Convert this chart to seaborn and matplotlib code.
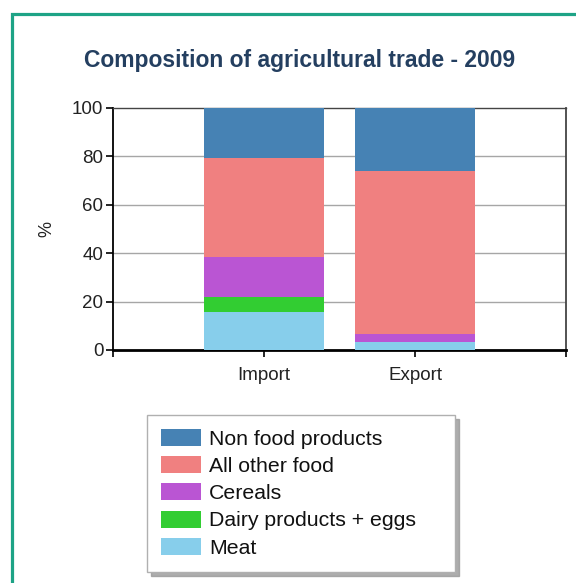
import matplotlib
matplotlib.use("Agg")
import matplotlib.pyplot as plt
import matplotlib.patches as mpatches
import numpy as np
import pandas as pd
import seaborn as sns

categories = ["Import", "Export"]
series = ["Meat", "Dairy products + eggs", "Cereals", "All other food", "Non food products"]
meat = [15.9, 3.1]
dairy = [5.8, 0.3]
cereals = [16.8, 3.4]
other_food = [41.0, 67.2]
non_food = [20.5, 26.0]
colors = {"Meat": "#87ceeb", "Dairy products + eggs": "#32cd32", "Cereals": "#ba55d3",
          "All other food": "#f08080", "Non food products": "#4682b4"}
yticks = [0, 20, 40, 60, 80, 100]

sns.set_style("white")
plt.rcParams["font.family"] = ["Liberation Sans", "DejaVu Sans"]

values = {"Meat": meat, "Dairy products + eggs": dairy, "Cereals": cereals,
          "All other food": other_food, "Non food products": non_food}
cum = np.cumsum(np.array([values[s] for s in series]), axis=0)
rows = []
for i, s in enumerate(series):
    for j, c in enumerate(categories):
        rows.append({"category": c, "series": s, "top": cum[i, j]})
df = pd.DataFrame(rows)

fig = plt.figure(figsize=(5.76, 5.83), dpi=100)
ax = fig.add_axes([113/576, 1-350/583, (566-113)/576, (350-108)/583])

for s in reversed(series):
    sub = df[df["series"] == s]
    sns.barplot(data=sub, x="category", y="top", order=categories, color=colors[s],
                width=0.79, saturation=1, ax=ax, edgecolor="none", linewidth=0, zorder=3)

ax.set_xlim(-1, 2)
ax.set_ylim(0, 100)
ax.set_yticks(yticks)
ax.set_yticklabels([str(v) for v in yticks], fontsize=13.5, color="#222222")
ax.set_xticks([0, 1])
ax.set_xticklabels(categories, fontsize=13.5, color="#222222")
ax.set_xticks([-1, 2], minor=True)
ax.tick_params(axis="y", which="both", direction="out", length=5, width=1.2, color="black", left=True, pad=2)
ax.tick_params(axis="x", which="both", direction="out", length=5, width=1.2, color="black", bottom=True, pad=7)
ax.set_xlabel("")
ax.set_ylabel("%", fontsize=13, color="#222222")
ax.yaxis.set_label_coords(-0.128, 0.5)
for v in [20, 40, 60, 80]:
    ax.axhline(v, color="#a6a6a6", lw=1, zorder=1)
for side in ["left", "right", "top"]:
    ax.spines[side].set_visible(True)
ax.spines["left"].set_color("black")
ax.spines["left"].set_linewidth(1.3)
ax.spines["bottom"].set_color("black")
ax.spines["bottom"].set_linewidth(2)
ax.spines["top"].set_color("#444444")
ax.spines["top"].set_linewidth(1)
ax.spines["right"].set_color("#444444")
ax.spines["right"].set_linewidth(1.3)

fig.text(300/576, 1-61/583, "Composition of agricultural trade - 2009", ha="center", va="center",
         fontsize=16.5, fontweight="bold", color="#243f60")

handles = [mpatches.Patch(facecolor=colors[s], edgecolor="none") for s in reversed(series)]
labels = list(reversed(series))
leg = fig.legend(handles, labels, loc="upper left",
                 bbox_to_anchor=(147/576, 1-573/583, (455-147)/576, (573-415)/583),
                 mode="expand",
                 prop={"size": 15.3}, frameon=True, fancybox=False,
                 shadow={"ox": 3, "oy": -3, "color": "#999999", "alpha": 0.8},
                 handlelength=1.88, handleheight=0.85, labelspacing=0.35, handletextpad=0.38,
                 borderpad=0.65, borderaxespad=0, labelcolor="#111111")
leg.get_frame().set_edgecolor("#b0b0b0")
leg.get_frame().set_linewidth(1)

border = mpatches.Rectangle((11.5/576, -0.1), 1.2, 1 - 13.5/583 + 0.1, transform=fig.transFigure,
                            fill=False, edgecolor="#1ea386", linewidth=2.3, clip_on=False)
fig.patches.append(border)

fig.savefig("out.png", dpi=100)
